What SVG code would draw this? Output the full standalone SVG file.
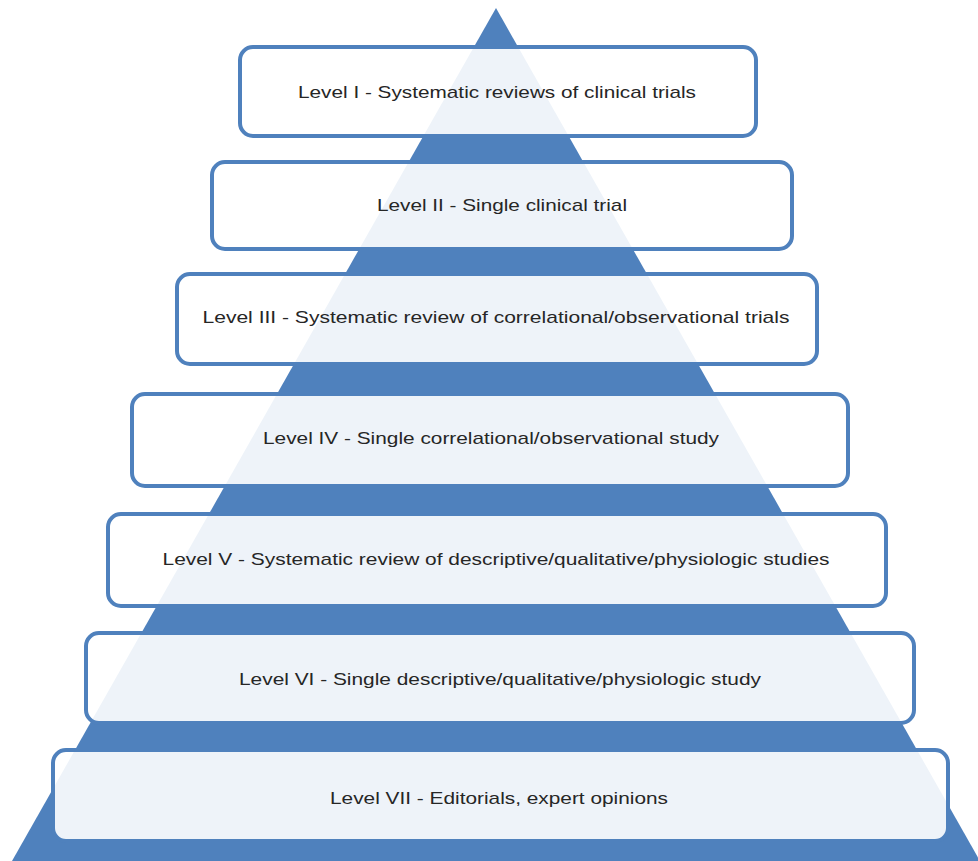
<svg xmlns="http://www.w3.org/2000/svg" width="978" height="861" viewBox="0 0 978 861">
<style>
.box{fill:#ffffff;fill-opacity:0.9;stroke:#4f81bd;stroke-width:4}
.lbl{font-family:"Liberation Sans",Arial,sans-serif;font-size:17px;fill:#262626;text-anchor:middle;dominant-baseline:central}
</style>
<rect width="978" height="861" fill="#ffffff"/>
<g id="pyramid"><polygon points="496,8 12,861 980,861" fill="#4f81bd"/></g>
<g id="level1"><rect class="box" x="240" y="47" width="516" height="89" rx="13"/><text class="lbl" x="497" y="92" textLength="398" lengthAdjust="spacingAndGlyphs">Level I - Systematic reviews of clinical trials</text></g>
<g id="level2"><rect class="box" x="212" y="162" width="580" height="87" rx="13"/><text class="lbl" x="502" y="205" textLength="250" lengthAdjust="spacingAndGlyphs">Level II - Single clinical trial</text></g>
<g id="level3"><rect class="box" x="177" y="274" width="640" height="90" rx="13"/><text class="lbl" x="496" y="317" textLength="587" lengthAdjust="spacingAndGlyphs">Level III - Systematic review of correlational/observational trials</text></g>
<g id="level4"><rect class="box" x="132" y="394" width="716" height="92" rx="13"/><text class="lbl" x="491" y="438" textLength="456" lengthAdjust="spacingAndGlyphs">Level IV - Single correlational/observational study</text></g>
<g id="level5"><rect class="box" x="108" y="514" width="778" height="92" rx="13"/><text class="lbl" x="496" y="559" textLength="667" lengthAdjust="spacingAndGlyphs">Level V - Systematic review of descriptive/qualitative/physiologic studies</text></g>
<g id="level6"><rect class="box" x="86" y="633" width="828" height="90" rx="13"/><text class="lbl" x="500" y="679" textLength="522" lengthAdjust="spacingAndGlyphs">Level VI - Single descriptive/qualitative/physiologic study</text></g>
<g id="level7"><rect class="box" x="53" y="750" width="895" height="91" rx="13"/><text class="lbl" x="499" y="798" textLength="338" lengthAdjust="spacingAndGlyphs">Level VII - Editorials, expert opinions</text></g>
<g id="connectors"></g>
</svg>
